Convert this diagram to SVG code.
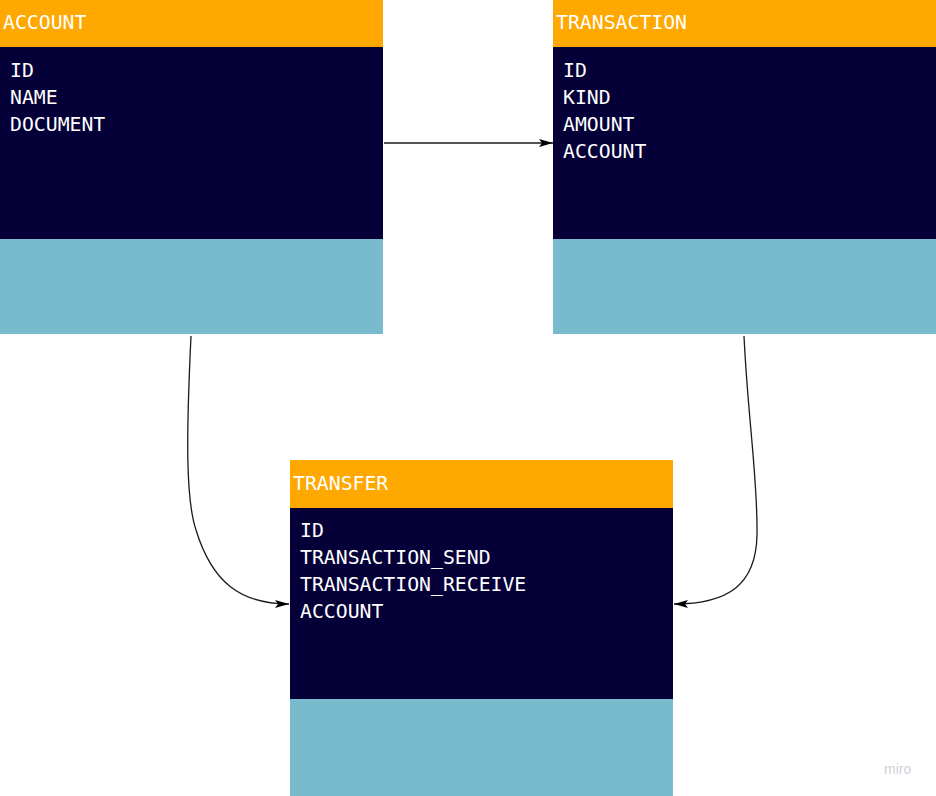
<svg xmlns="http://www.w3.org/2000/svg" width="936" height="796" viewBox="0 0 936 796">
<defs>
<style>
.hd{fill:#FFA800}
.bd{fill:#050038}
.ft{fill:#78BBCC}
.t{font-family:"DejaVu Sans Mono","Liberation Mono",monospace;font-size:19.8px;fill:#FFFFFF}
.c{fill:none;stroke:#1a1a1a;stroke-width:1.3}
</style>
<marker id="ah" viewBox="0 0 14 8" refX="14" refY="4" markerWidth="14" markerHeight="8" markerUnits="userSpaceOnUse" orient="auto">
<path d="M0,0 L14,4 L0,8 L3,4 Z" fill="#000"/>
</marker>
</defs>
<rect width="936" height="796" fill="#FFFFFF"/>
<g id="account">
<rect class="hd" x="0" y="0" width="383" height="47"/>
<rect class="bd" x="0" y="47" width="383" height="192"/>
<rect class="ft" x="0" y="239" width="383" height="95"/>
<text class="t" x="3" y="29">ACCOUNT</text>
<text class="t" x="10" y="77">ID</text>
<text class="t" x="10" y="104">NAME</text>
<text class="t" x="10" y="131">DOCUMENT</text>
</g>
<g id="transaction">
<rect class="hd" x="553" y="0" width="383" height="47"/>
<rect class="bd" x="553" y="47" width="383" height="192"/>
<rect class="ft" x="553" y="239" width="383" height="95"/>
<text class="t" x="556" y="29">TRANSACTION</text>
<text class="t" x="563" y="77">ID</text>
<text class="t" x="563" y="104">KIND</text>
<text class="t" x="563" y="131">AMOUNT</text>
<text class="t" x="563" y="158">ACCOUNT</text>
</g>
<g id="transfer">
<rect class="hd" x="290" y="460" width="383" height="48"/>
<rect class="bd" x="290" y="508" width="383" height="191"/>
<rect class="ft" x="290" y="699" width="383" height="97"/>
<text class="t" x="293" y="490">TRANSFER</text>
<text class="t" x="300" y="537">ID</text>
<text class="t" x="300" y="564">TRANSACTION_SEND</text>
<text class="t" x="300" y="591">TRANSACTION_RECEIVE</text>
<text class="t" x="300" y="618">ACCOUNT</text>
</g>
<g id="connectors">
<path class="c" d="M384,143 L553,143" marker-end="url(#ah)"/>
<path class="c" d="M191,336 C186,440 186,500 196,530 C212,582 240,604 289,604" marker-end="url(#ah)"/>
<path class="c" d="M744,336 C748,420 758,480 757,535 C756,585 728,604 674,604" marker-end="url(#ah)"/>
</g>
<text x="884" y="774" font-family="Liberation Sans, sans-serif" font-size="14" fill="#CFCFD8">miro</text>
</svg>
